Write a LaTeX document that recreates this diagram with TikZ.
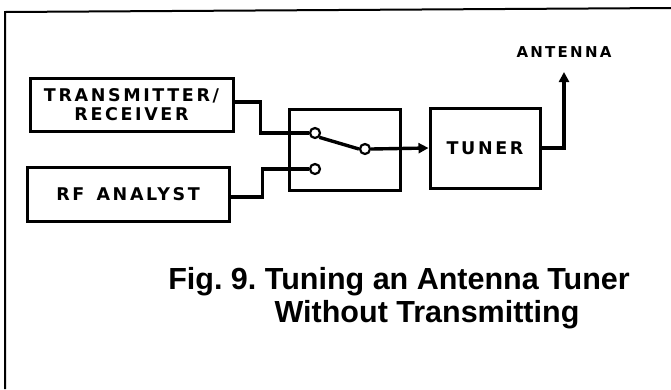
\documentclass[tikz,border=0pt]{standalone}
\usepackage{fontspec}
\setmainfont{Liberation Sans}
\newfontfamily\lblfont[LetterSpace=15]{DejaVu Sans Bold}
\newfontfamily\capfont{Liberation Sans Bold}
\usetikzlibrary{arrows.meta,calc}
\begin{document}
\frenchspacing
\begin{tikzpicture}[x=1pt,y=-1pt,
  blk/.style={draw,line width=3pt,inner sep=0pt,align=center,
    font=\lblfont\fontsize{17.5}{18.5}\selectfont},
  wire/.style={line width=3.4pt},
  term/.style={circle,draw,fill=white,minimum size=10pt,inner sep=0pt,line width=2.2pt},
  tip/.style={-{Triangle[length=10pt,width=10pt]}}]
\useasboundingbox (0,0) rectangle (671,389);
% frame
\draw[line width=2pt] (5,389) -- (5,12) -- (671,8);
% blocks
\node[blk,minimum width=203pt,minimum height=53pt] (tx) at (131.5,104.5) {TRANSMITTER/\\RECEIVER};
\node[blk,minimum width=202pt,minimum height=54pt] (rf) at (128,194) {RF\hspace{0.7em}ANALYST};
\node[blk,minimum width=111pt,minimum height=81pt] (sw) at (344.5,149.5) {};
\node[blk,minimum width=110pt,minimum height=80pt] (tun) at (485,148) {TUNER};
% terminals
\node[term] (t1) at (315,133) {};
\node[term] (t2) at (315,169) {};
\node[term] (c) at (365,149) {};
\coordinate (ant) at (564,72);
% wires
\draw[wire] ([yshift=2.5pt]tx.east) -- ++(26,0) |- (t1.west);
\draw[wire] ([yshift=-3pt]rf.east) -- ++(32,0) |- (t2.west);
\draw[wire] (t1.south east) -- (c.west);
\draw[wire,tip] (c.east) -- (tun.west);
\draw[wire,tip] (tun.east) -| (ant);
% labels
\node[font=\lblfont\fontsize{15}{16}\selectfont] (antlbl) at (564,52) {ANTENNA};
\node[anchor=base,font=\capfont\fontsize{30.5}{33}\selectfont] (cap1) at (399,289) {Fig. 9. Tuning an Antenna Tuner};
\node[anchor=base,font=\capfont\fontsize{30.5}{33}\selectfont] (cap2) at (427,322) {Without Transmitting};
\end{tikzpicture}
\end{document}
